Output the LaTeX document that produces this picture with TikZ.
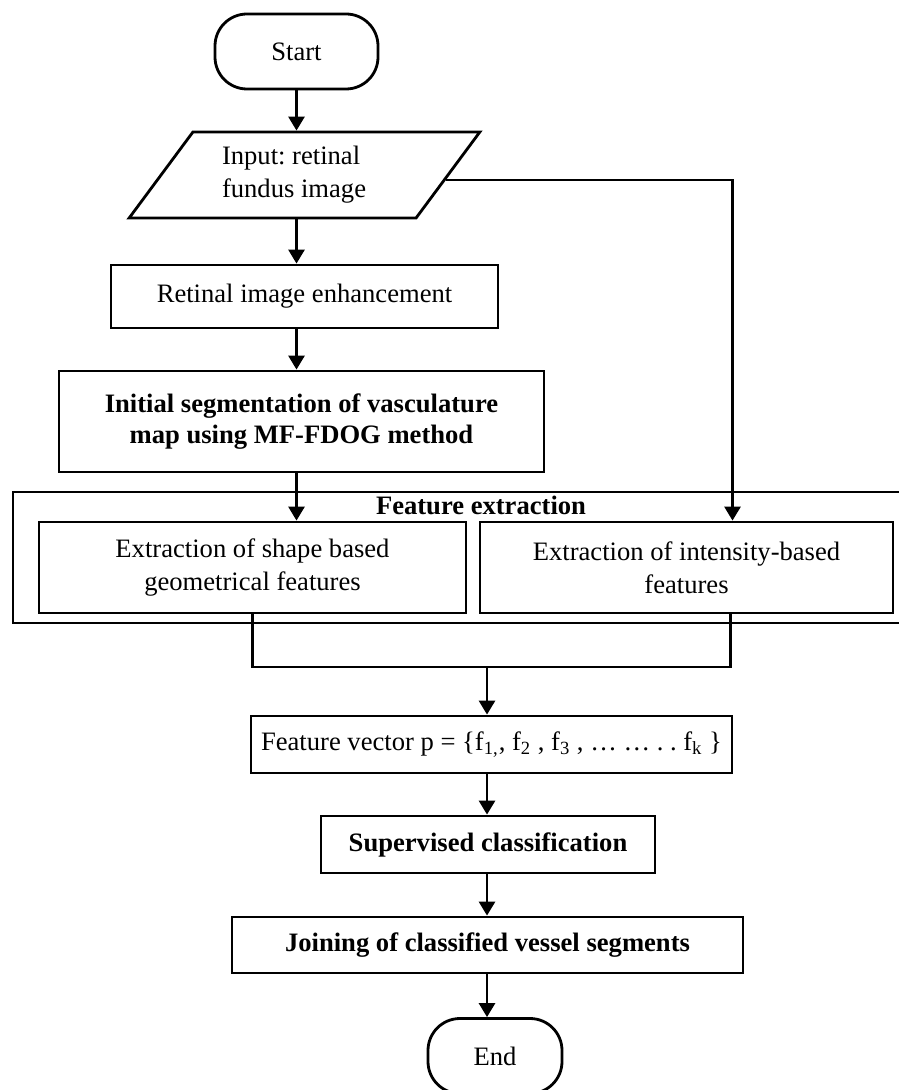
\documentclass[tikz,border=0pt]{standalone}
\usepackage{fontspec}
\setmainfont{Liberation Serif}
\usetikzlibrary{arrows.meta,shapes.geometric}

\begin{document}
\begin{tikzpicture}[x=0.5pt, y=-0.5pt, line width=1.4pt,
		font=\fontsize{13.3}{16.5}\selectfont\frenchspacing,
		bold/.style={font=\fontsize{13.3}{15.5}\selectfont\bfseries},
		box/.style={draw, rectangle, inner sep=0pt, align=center},
		terminal/.style={draw, rectangle, rounded corners=16pt, minimum height=37.5pt, inner sep=0pt},
		arr/.style={-{Triangle[width=8pt,length=7pt]}}]
				\useasboundingbox (0,0) rectangle (898,1090);
				
				% Start and input
				\node[terminal, minimum width=81.5pt] (start) at (296.5,51.5) {Start};
				\node[draw, trapezium, trapezium left angle=50.5, trapezium right angle=129.5,
					trapezium stretches=true, minimum width=175.5pt, minimum height=43pt,
					inner sep=0pt, text width=82.5pt, align=flush left] (input) at (304.5,175) {Input: retinal\\fundus image};
				
				% Pre-processing
				\node[box, minimum width=193.5pt, minimum height=31.5pt] (enhance) at (304.5,296.5) {Retinal image enhancement};
				\node[box, bold, minimum width=242.5pt, minimum height=50.5pt] (segment) at (301.5,421.5) {Initial segmentation of vasculature\\map using MF-FDOG method};
				
				% Feature extraction frame (runs off the right edge)
				\node[draw, rectangle, inner sep=0pt, minimum width=446pt, minimum height=65.5pt] (fext) at (459,557.5) {};
				\node[bold] (fexttitle) at (481,505) {Feature extraction};
				\node[box, minimum width=213.5pt, minimum height=45.5pt] (shapefeat) at (252.5,567.5) {Extraction of shape based\\geometrical features};
				\node[box, minimum width=206.5pt, minimum height=45.5pt] (intfeat) at (686.5,567.5) {Extraction of intensity-based\\features};
				
				% Classification
				\node[box, minimum width=240.5pt, minimum height=28.5pt] (fvec) at (491.5,744.5) {Feature vector p = \{f\textsubscript{1,}, f\textsubscript{2} , f\textsubscript{3} , … … . . f\textsubscript{k} \}};
				\node[box, bold, minimum width=167pt, minimum height=28.5pt] (classify) at (488,844.5) {Supervised classification};
				\node[box, bold, minimum width=255.5pt, minimum height=28pt] (joining) at (487.5,945) {Joining of classified vessel segments};
				\node[terminal, minimum width=67pt] (stop) at (495,1056) {End};
				
				% Arrows
				\coordinate (merge) at (487,667); % where both feature lines meet
				\draw[arr] (start) -- (start |- input.north);
				\draw[arr] (input.south -| start) -- (start |- enhance.north);
				\draw[arr] (enhance.south -| start) -- (start |- segment.north);
				\draw[arr] (segment.south -| start) -- (start |- shapefeat.north);
				\draw[arr] (input.-2.5) -| ([xshift=23pt]intfeat.north); % input straight to intensity features
				\draw (shapefeat.south) |- (merge) -| ([xshift=22pt]intfeat.south);
				\draw[arr] (merge) -- (merge |- fvec.north);
				\draw[arr] (fvec.south -| merge) -- (merge |- classify.north);
				\draw[arr] (classify.south -| merge) -- (merge |- joining.north);
				\draw[arr] (joining.south -| merge) -- (merge |- stop.north);
			\end{tikzpicture}
\end{document}
